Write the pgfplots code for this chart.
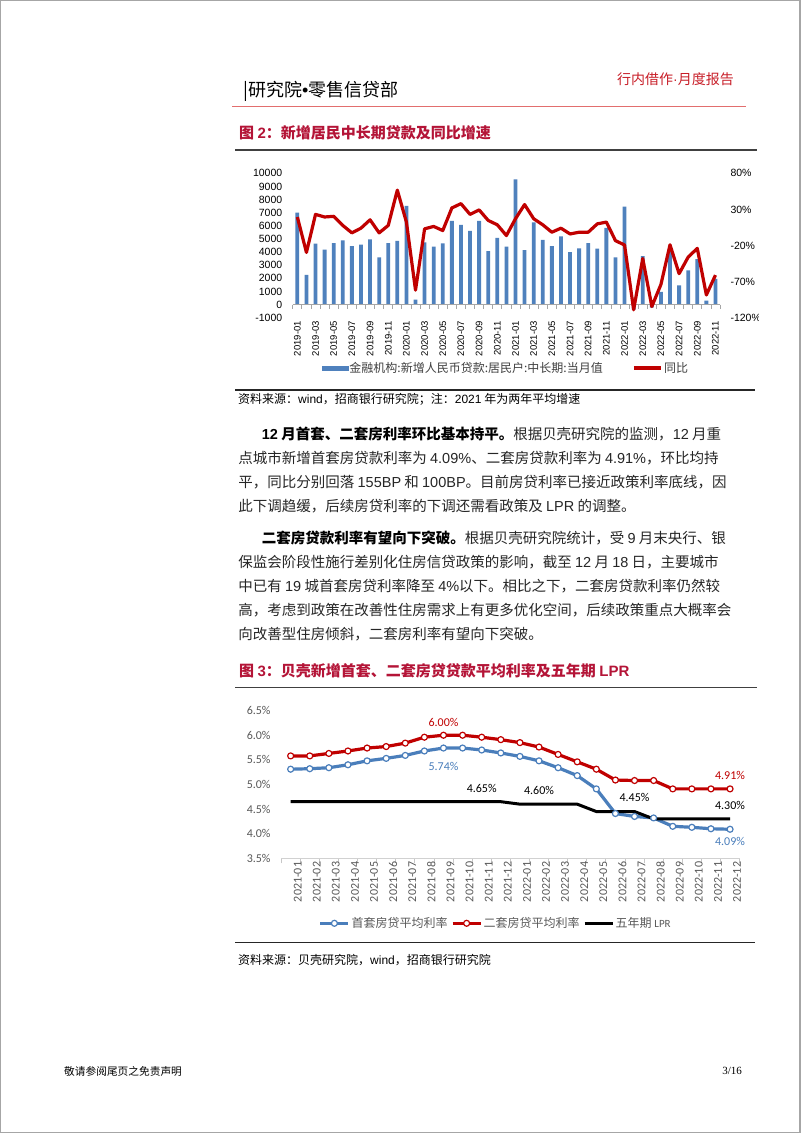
\documentclass[border=0pt]{standalone}
\usepackage{fontspec}
\usepackage{pgfplots}
\pgfplotsset{compat=1.18}
\setmainfont{Noto Sans CJK SC}
\newfontfamily\arial{Liberation Sans}
\newfontfamily\timesf{Liberation Serif}
\newfontfamily\calibri{Carlito}
\XeTeXlinebreaklocale "zh"
\XeTeXlinebreakskip=0pt plus 1pt
\definecolor{barblue}{RGB}{79,129,189}
\definecolor{bluel}{RGB}{74,126,187}
\definecolor{linered}{RGB}{192,0,0}
\definecolor{titlered}{RGB}{180,20,55}
\definecolor{hdrred}{RGB}{200,30,40}
\definecolor{hdrline}{RGB}{226,110,110}
\definecolor{lblgray}{RGB}{89,89,89}
\definecolor{rulegray}{RGB}{64,64,64}
\newcommand\A[1]{{\arial #1}}
\newcommand\AB[1]{{\arial\bfseries #1}}
\newcommand\bodyfont{\fontsize{14.5}{17}\selectfont}
\begin{document}
\begin{tikzpicture}
\useasboundingbox (0pt,0pt) rectangle (802pt,-1133pt);
\fill[white] (0pt,0pt) rectangle (802pt,-1133pt);
\draw[gray!70, line width=1.2pt] (0.6pt,-0.6pt) rectangle (800pt,-1132.4pt);

% header
\node[anchor=west, inner sep=0pt, font=\fontsize{18}{20}\selectfont] at (243pt,-91pt) {|研究院\A{•}零售信贷部};
\node[anchor=east, inner sep=0pt, text=hdrred, font=\fontsize{14}{16}\selectfont] at (734pt,-79pt) {行内借作\A{·}月度报告};
\draw[hdrline, line width=1pt] (232pt,-106pt) -- (746pt,-106pt);

% chart 1 title
\node[anchor=west, inner sep=0pt, text=titlered, font=\bfseries\fontsize{15}{18}\selectfont] at (239pt,-132.7pt) {图 \AB{2}：新增居民中长期贷款及同比增速};
\draw[rulegray, line width=1.5pt] (235pt,-150pt) -- (757pt,-150pt);

\begin{scope}
\clip (0pt,0pt) rectangle (758pt,-1133pt);
\begin{axis}[
  at={(292.8pt,-317.7pt)}, anchor=south west,
  scale only axis, width=427.2pt, height=144.4pt,
  xmin=-0.5, xmax=46.5, ymin=-1000, ymax=10000,
  scaled y ticks=false,
  axis line style={draw=none}, major tick length=0pt,
  ytick={-1000,0,1000,2000,3000,4000,5000,6000,7000,8000,9000,10000},
  yticklabels={-1000,0,1000,2000,3000,4000,5000,6000,7000,8000,9000,10000},
  yticklabel style={font=\arial\fontsize{10.5}{12}\selectfont, xshift=-7pt},
  xtick={0,2,...,46},
  xticklabels={2019-01,2019-03,2019-05,2019-07,2019-09,2019-11,2020-01,2020-03,2020-05,2020-07,2020-09,2020-11,2021-01,2021-03,2021-05,2021-07,2021-09,2021-11,2022-01,2022-03,2022-05,2022-07,2022-09,2022-11},
  xticklabel style={font=\arial\fontsize{9.5}{11}\selectfont, rotate=90, anchor=east},
  clip=false,
]
\addplot[ybar, bar width=3.8pt, fill=barblue, draw=none] coordinates {
(0,7000) (1,2260) (2,4640) (3,4180) (4,4690) (5,4900) (6,4460) (7,4560) (8,4970) (9,3590) (10,4690) (11,4850)
(12,7510) (13,380) (14,4740) (15,4410) (16,4670) (17,6380) (18,6080) (19,5620) (20,6380) (21,4080) (22,5080) (23,4410)
(24,9540) (25,4150) (26,6260) (27,4920) (28,4460) (29,5200) (30,4000) (31,4280) (32,4690) (33,4260) (34,5850) (35,3590)
(36,7460) (37,-380) (38,3690) (39,-230) (40,970) (41,4050) (42,1460) (43,2600) (44,3460) (45,300) (46,1950)};
\draw[black!35, line width=0.8pt] (axis cs:-0.5,0) -- (axis cs:46.5,0);
\pgfplotsinvokeforeach{-0.5,0.5,...,46.5}{\draw[black!35, line width=0.8pt] (axis cs:#1,0) -- ++(0pt,-4pt);}
\end{axis}
\begin{axis}[
  at={(292.8pt,-317.7pt)}, anchor=south west,
  scale only axis, width=427.2pt, height=144.4pt,
  xmin=-0.5, xmax=46.5, ymin=-120, ymax=80,
  axis x line=none, axis y line*=right, y axis line style={draw=none},
  major tick length=0pt,
  ytick={-120,-70,-20,30,80},
  yticklabels={-120\%,-70\%,-20\%,30\%,80\%},
  yticklabel style={font=\arial\fontsize{10.5}{12}\selectfont, anchor=west, xshift=7pt},
  clip=false,
  legend columns=2,
  legend image code/.code={\draw[#1] (0pt,0pt) -- (27pt,0pt);},
  legend style={at={(0.498,-0.348)}, anchor=center, draw=none, fill=none,
    font=\fontsize{12}{14}\selectfont, text=black!75, inner sep=0pt,
    nodes={inner sep=1.5pt},
    /tikz/every even column/.append style={column sep=28pt}},
]
\addlegendimage{legend image code/.code={\fill[barblue] (0pt,-2pt) rectangle (26pt,2pt);}}
\addlegendentry{金融机构:新增人民币贷款:居民户:中长期:当月值}
\addplot[linered, line width=3.2pt, line join=round] coordinates {
(0,19.5) (1,-29.6) (2,23.1) (3,19.5) (4,20.4) (5,7.8) (6,-2.5) (7,4.0) (8,15.6) (9,-2.5) (10,7.8) (11,56.7)
(12,12.4) (13,-81.8) (14,3.1) (15,6.4) (16,0.7) (17,32.0) (18,38.0) (19,23.1) (20,29.3) (21,14.7) (22,8.7) (23,-6.2)
(24,17.1) (25,36.7) (26,17.1) (27,8.7) (28,-1.6) (29,4.0) (30,-4.0) (31,-1.6) (32,-1.6) (33,10.0) (34,12.4) (35,-13.3)
(36,-19.3) (37,-109.0) (38,-38.0) (39,-104.5) (40,-74.0) (41,-19.0) (42,-59.0) (43,-36.0) (44,-24.0) (45,-88.5) (46,-61.0)};
\addlegendentry{同比}
\end{axis}
\end{scope}

\draw[black!85, line width=1.2pt] (235pt,-390pt) -- (755pt,-390pt);
\node[anchor=west, inner sep=0pt, font=\fontsize{12}{14}\selectfont] at (238pt,-399.5pt) {资料来源：\A{wind}，招商银行研究院；注：\A{2021} 年为两年平均增速};

% body text
\node[anchor=west, inner sep=0pt, text width=480pt, align=justify, font=\bodyfont, text=black!85] at (261.6pt,-434pt) {\parfillskip=0pt {\color{black}\bfseries\AB{12} 月首套、二套房利率环比基本持平。}根据贝壳研究院的监测，\A{12} 月重};
\node[anchor=west, inner sep=0pt, text width=504pt, align=justify, font=\bodyfont, text=black!85] at (238.2pt,-458pt) {\parfillskip=0pt 点城市新增首套房贷款利率为 \A{4.09\%}、二套房贷款利率为 \A{4.91\%}，环比均持};
\node[anchor=west, inner sep=0pt, text width=504pt, align=justify, font=\bodyfont, text=black!85] at (238.2pt,-482pt) {\parfillskip=0pt 平，同比分别回落 \A{155BP} 和 \A{100BP}。目前房贷利率已接近政策利率底线，因};
\node[anchor=west, inner sep=0pt, font=\bodyfont, text=black!85] at (238.2pt,-506pt) {此下调趋缓，后续房贷利率的下调还需看政策及 \A{LPR} 的调整。};

\node[anchor=west, inner sep=0pt, text width=480pt, align=justify, font=\bodyfont, text=black!85] at (261.6pt,-538pt) {\parfillskip=0pt {\color{black}\bfseries 二套房贷款利率有望向下突破。}根据贝壳研究院统计，受 \A{9} 月末央行、银};
\node[anchor=west, inner sep=0pt, text width=504pt, align=justify, font=\bodyfont, text=black!85] at (238.2pt,-562pt) {\parfillskip=0pt 保监会阶段性施行差别化住房信贷政策的影响，截至 \A{12} 月 \A{18} 日，主要城市};
\node[anchor=west, inner sep=0pt, text width=504pt, align=justify, font=\bodyfont, text=black!85] at (238.2pt,-586pt) {\parfillskip=0pt 中已有 \A{19} 城首套房贷利率降至 \A{4\%}以下。相比之下，二套房贷款利率仍然较};
\node[anchor=west, inner sep=0pt, text width=504pt, align=justify, font=\bodyfont, text=black!85] at (238.2pt,-610pt) {\parfillskip=0pt 高，考虑到政策在改善性住房需求上有更多优化空间，后续政策重点大概率会};
\node[anchor=west, inner sep=0pt, font=\bodyfont, text=black!85] at (238.2pt,-634pt) {向改善型住房倾斜，二套房利率有望向下突破。};

% chart 2 title
\node[anchor=west, inner sep=0pt, text=titlered, font=\bfseries\fontsize{15}{18}\selectfont] at (239pt,-670.7pt) {图 \AB{3}：贝壳新增首套、二套房贷贷款平均利率及五年期 \AB{LPR}};
\draw[rulegray, line width=1.5pt] (235pt,-687.3pt) -- (757pt,-687.3pt);

\begin{axis}[
  at={(281.1pt,-858.3pt)}, anchor=south west,
  scale only axis, width=458.5pt, height=147.7pt,
  xmin=-0.5, xmax=23.5, ymin=3.5, ymax=6.5,
  axis x line*=bottom, axis y line*=left,
  y axis line style={draw=none},
  x axis line style={draw=black!18, line width=0.8pt},
  major tick length=0pt,
  minor xtick={-0.5,0.5,...,23.5},
  minor tick length=5pt, tick align=outside,
  minor tick style={black!22, line width=0.8pt},
  ytick={3.5,4,4.5,5,5.5,6,6.5},
  yticklabels={3.5\%,4.0\%,4.5\%,5.0\%,5.5\%,6.0\%,6.5\%},
  yticklabel style={font=\calibri\fontsize{12}{14}\selectfont, text=lblgray, xshift=-7pt},
  xtick={0,...,23},
  xticklabels={2021-01,2021-02,2021-03,2021-04,2021-05,2021-06,2021-07,2021-08,2021-09,2021-10,2021-11,2021-12,2022-01,2022-02,2022-03,2022-04,2022-05,2022-06,2022-07,2022-08,2022-09,2022-10,2022-11,2022-12},
  xticklabel style={font=\calibri\fontsize{12}{14}\selectfont, text=lblgray, rotate=90, anchor=east, yshift=-7pt},
  clip=false,
  legend columns=3,
  legend image code/.code={\draw[mark repeat=2,mark phase=2,#1] plot coordinates {(0pt,0pt) (14pt,0pt) (28pt,0pt)};},
  legend style={at={(0.4676,-0.44)}, anchor=center, draw=none, fill=none,
    font=\fontsize{12}{14}\selectfont, text=lblgray, inner sep=0pt,
    nodes={inner sep=1.5pt},
    /tikz/every even column/.append style={column sep=2pt}},
]
\addplot[bluel, line width=3.2pt, line join=round, mark=*, mark size=3pt, mark options={fill=white, draw=bluel, line width=1.2pt}] coordinates {
(0,5.31) (1,5.32) (2,5.34) (3,5.40) (4,5.48) (5,5.53) (6,5.59) (7,5.68) (8,5.74) (9,5.74) (10,5.70) (11,5.64)
(12,5.57) (13,5.48) (14,5.34) (15,5.18) (16,4.91) (17,4.41) (18,4.35) (19,4.32) (20,4.15) (21,4.13) (22,4.10) (23,4.09)};
\addlegendentry{首套房贷平均利率}
\addplot[linered, line width=3.2pt, line join=round, mark=*, mark size=3pt, mark options={fill=white, draw=linered, line width=1.2pt}] coordinates {
(0,5.58) (1,5.58) (2,5.63) (3,5.68) (4,5.74) (5,5.77) (6,5.84) (7,5.96) (8,6.00) (9,6.00) (10,5.96) (11,5.91)
(12,5.85) (13,5.76) (14,5.61) (15,5.46) (16,5.31) (17,5.09) (18,5.08) (19,5.08) (20,4.91) (21,4.91) (22,4.91) (23,4.91)};
\addlegendentry{二套房贷平均利率}
\addplot[black, line width=3pt, line join=round] coordinates {
(0,4.65) (1,4.65) (2,4.65) (3,4.65) (4,4.65) (5,4.65) (6,4.65) (7,4.65) (8,4.65) (9,4.65) (10,4.65) (11,4.65)
(12,4.60) (13,4.60) (14,4.60) (15,4.60) (16,4.45) (17,4.45) (18,4.45) (19,4.30) (20,4.30) (21,4.30) (22,4.30) (23,4.30)};
\addlegendentry{五年期 {\calibri\fontsize{11}{13}\selectfont LPR}}
\node[text=linered, font=\calibri\fontsize{12}{14}\selectfont] at (axis cs:8,6.26) {6.00\%};
\node[text=bluel, font=\calibri\fontsize{12}{14}\selectfont] at (axis cs:8,5.375) {5.74\%};
\node[text=black, font=\calibri\fontsize{12}{14}\selectfont] at (axis cs:10,4.914) {4.65\%};
\node[text=black, font=\calibri\fontsize{12}{14}\selectfont] at (axis cs:13,4.887) {4.60\%};
\node[text=black, font=\calibri\fontsize{12}{14}\selectfont] at (axis cs:18,4.739) {4.45\%};
\node[text=black, font=\calibri\fontsize{12}{14}\selectfont] at (axis cs:23,4.583) {4.30\%};
\node[text=linered, font=\calibri\fontsize{12}{14}\selectfont] at (axis cs:23,5.192) {4.91\%};
\node[text=bluel, font=\calibri\fontsize{12}{14}\selectfont] at (axis cs:23,3.837) {4.09\%};
\end{axis}

\draw[black!85, line width=1.2pt] (235pt,-942.7pt) -- (755pt,-942.7pt);
\node[anchor=west, inner sep=0pt, font=\fontsize{12}{14}\selectfont] at (238pt,-960pt) {资料来源：贝壳研究院，\A{wind}，招商银行研究院};

% footer
\node[anchor=west, inner sep=0pt, font=\fontsize{10.7}{12}\selectfont] at (64pt,-1071pt) {敬请参阅尾页之免责声明};
\node[anchor=east, inner sep=0pt, font=\timesf\fontsize{11}{13}\selectfont] at (742pt,-1071pt) {3/16};
\end{tikzpicture}
\end{document}
